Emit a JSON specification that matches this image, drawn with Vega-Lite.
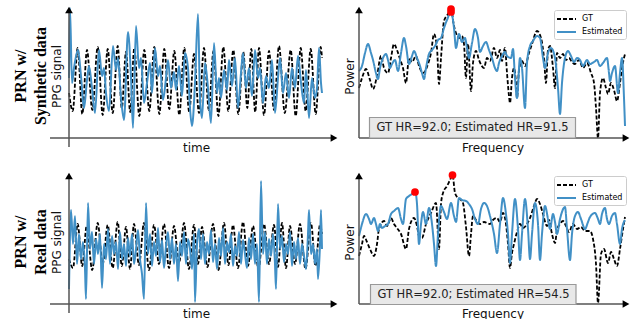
{
  "$schema": "https://vega.github.io/schema/vega-lite/v6.json",
  "background": "white",
  "padding": {"left": 13, "top": 4, "right": 0, "bottom": 0},
  "datasets": {
    "one": [{}],
    "tlGT": [{"x":0,"y":45},{"x":3.7,"y":27},{"x":8.7,"y":90},{"x":13.3,"y":24},{"x":18,"y":88},{"x":23.3,"y":28},{"x":28.7,"y":91},{"x":33.7,"y":23},{"x":38.7,"y":89},{"x":43.7,"y":25},{"x":48.7,"y":92},{"x":52.8,"y":30},{"x":57,"y":86},{"x":61.2,"y":26},{"x":65.3,"y":90},{"x":70.3,"y":22},{"x":75.3,"y":88},{"x":80.3,"y":27},{"x":85.3,"y":91},{"x":90.3,"y":24},{"x":95.3,"y":89},{"x":100.3,"y":29},{"x":105.3,"y":87},{"x":110.3,"y":23},{"x":115.3,"y":90},{"x":120.2,"y":26},{"x":125,"y":84},{"x":130,"y":25},{"x":135,"y":90},{"x":139.8,"y":28},{"x":144.5,"y":87},{"x":149.4,"y":22},{"x":154.3,"y":91},{"x":159.3,"y":27},{"x":164.3,"y":88},{"x":169.3,"y":24},{"x":174.3,"y":86},{"x":178.3,"y":30},{"x":182.3,"y":89},{"x":186.2,"y":26},{"x":190,"y":90},{"x":195,"y":23},{"x":200,"y":87},{"x":205,"y":28},{"x":210,"y":92},{"x":215.8,"y":25},{"x":221.7,"y":88},{"x":226.7,"y":22},{"x":231.7,"y":90},{"x":236.7,"y":27},{"x":241.7,"y":89},{"x":246.7,"y":24},{"x":251.7,"y":91},{"x":253,"y":80}],
    "tlES": [{"x":0,"y":60},{"x":1,"y":130},{"x":3,"y":55},{"x":5,"y":70},{"x":9,"y":88},{"x":12,"y":62},{"x":15,"y":30},{"x":18,"y":58},{"x":20,"y":72},{"x":23,"y":50},{"x":26,"y":25},{"x":30,"y":88},{"x":33,"y":62},{"x":35,"y":70},{"x":37,"y":45},{"x":40,"y":27},{"x":44,"y":92},{"x":47,"y":68},{"x":49,"y":80},{"x":52,"y":40},{"x":55,"y":18},{"x":59,"y":106},{"x":62,"y":60},{"x":64,"y":10},{"x":67,"y":112},{"x":70,"y":70},{"x":72,"y":80},{"x":75,"y":35},{"x":78,"y":55},{"x":81,"y":75},{"x":83,"y":45},{"x":86,"y":90},{"x":89,"y":62},{"x":91,"y":72},{"x":94,"y":38},{"x":97,"y":60},{"x":99,"y":78},{"x":102,"y":50},{"x":105,"y":66},{"x":107,"y":48},{"x":110,"y":72},{"x":113,"y":42},{"x":116,"y":85},{"x":119,"y":70},{"x":121,"y":30},{"x":123,"y":12},{"x":126,"y":55},{"x":129,"y":124},{"x":131,"y":40},{"x":133,"y":20},{"x":136,"y":75},{"x":139,"y":50},{"x":142,"y":15},{"x":145,"y":95},{"x":148,"y":45},{"x":150,"y":60},{"x":152,"y":40},{"x":155,"y":68},{"x":158,"y":48},{"x":160,"y":78},{"x":163,"y":52},{"x":166,"y":80},{"x":169,"y":30},{"x":172,"y":65},{"x":174,"y":85},{"x":177,"y":50},{"x":180,"y":70},{"x":183,"y":42},{"x":186,"y":88},{"x":189,"y":60},{"x":191,"y":70},{"x":194,"y":35},{"x":197,"y":62},{"x":200,"y":50},{"x":203,"y":78},{"x":206,"y":25},{"x":209,"y":60},{"x":211,"y":80},{"x":214,"y":45},{"x":217,"y":65},{"x":220,"y":40},{"x":223,"y":70},{"x":226,"y":50},{"x":229,"y":82},{"x":232,"y":55},{"x":235,"y":35},{"x":237,"y":68},{"x":240,"y":20},{"x":243,"y":60},{"x":246,"y":40},{"x":248,"y":50},{"x":250,"y":90},{"x":252,"y":55},{"x":253,"y":45}],
    "blGT": [{"x":0,"y":45},{"x":4,"y":36},{"x":8.7,"y":80},{"x":13.2,"y":38},{"x":17.7,"y":78},{"x":23.2,"y":34},{"x":28.7,"y":81},{"x":33.7,"y":40},{"x":38.7,"y":79},{"x":43.7,"y":36},{"x":48.7,"y":82},{"x":52.8,"y":38},{"x":57,"y":77},{"x":61,"y":35},{"x":65,"y":80},{"x":70,"y":39},{"x":75,"y":81},{"x":80,"y":34},{"x":85,"y":79},{"x":90,"y":40},{"x":95,"y":80},{"x":100,"y":36},{"x":105,"y":78},{"x":110,"y":41},{"x":115,"y":81},{"x":120,"y":35},{"x":125,"y":79},{"x":129,"y":40},{"x":133,"y":77},{"x":138.5,"y":37},{"x":144,"y":80},{"x":149.5,"y":34},{"x":155,"y":81},{"x":159.5,"y":39},{"x":164,"y":79},{"x":169,"y":36},{"x":174,"y":82},{"x":179,"y":38},{"x":184,"y":78},{"x":189.5,"y":35},{"x":195,"y":80},{"x":200,"y":40},{"x":205,"y":79},{"x":209,"y":37},{"x":213,"y":81},{"x":217,"y":36},{"x":221,"y":78},{"x":226,"y":40},{"x":231,"y":80},{"x":236.5,"y":35},{"x":242,"y":81},{"x":246.5,"y":38},{"x":251,"y":79},{"x":253,"y":70}],
    "blES": [{"x":0,"y":15},{"x":2,"y":94},{"x":4,"y":60},{"x":6,"y":88},{"x":8,"y":40},{"x":10,"y":70},{"x":12,"y":45},{"x":14,"y":62},{"x":16,"y":35},{"x":17,"y":5},{"x":19,"y":101},{"x":21,"y":55},{"x":23,"y":72},{"x":25,"y":40},{"x":27,"y":65},{"x":29,"y":50},{"x":31,"y":70},{"x":33,"y":16},{"x":35,"y":60},{"x":37,"y":45},{"x":39,"y":75},{"x":41,"y":40},{"x":43,"y":68},{"x":45,"y":50},{"x":47,"y":62},{"x":49,"y":35},{"x":51,"y":72},{"x":53,"y":45},{"x":55,"y":60},{"x":57,"y":38},{"x":59,"y":66},{"x":61,"y":48},{"x":63,"y":70},{"x":65,"y":40},{"x":67,"y":55},{"x":69,"y":74},{"x":71,"y":45},{"x":73,"y":30},{"x":75,"y":5},{"x":77,"y":101},{"x":79,"y":50},{"x":81,"y":70},{"x":83,"y":38},{"x":85,"y":62},{"x":87,"y":48},{"x":89,"y":76},{"x":91,"y":42},{"x":93,"y":64},{"x":95,"y":36},{"x":97,"y":58},{"x":99,"y":72},{"x":101,"y":45},{"x":103,"y":66},{"x":105,"y":40},{"x":107,"y":60},{"x":109,"y":23},{"x":111,"y":62},{"x":113,"y":48},{"x":115,"y":72},{"x":117,"y":40},{"x":119,"y":65},{"x":121,"y":55},{"x":123,"y":35},{"x":125,"y":70},{"x":126,"y":2},{"x":128,"y":60},{"x":130,"y":75},{"x":132,"y":45},{"x":134,"y":70},{"x":136,"y":40},{"x":138,"y":62},{"x":140,"y":50},{"x":142,"y":74},{"x":144,"y":42},{"x":146,"y":60},{"x":148,"y":35},{"x":150,"y":66},{"x":152,"y":48},{"x":154,"y":76},{"x":156,"y":40},{"x":158,"y":62},{"x":160,"y":52},{"x":162,"y":70},{"x":164,"y":38},{"x":166,"y":58},{"x":168,"y":48},{"x":170,"y":72},{"x":172,"y":40},{"x":174,"y":64},{"x":176,"y":50},{"x":178,"y":36},{"x":180,"y":66},{"x":182,"y":45},{"x":184,"y":70},{"x":186,"y":40},{"x":188,"y":60},{"x":190,"y":2},{"x":192,"y":123},{"x":194,"y":50},{"x":196,"y":72},{"x":198,"y":40},{"x":200,"y":65},{"x":202,"y":48},{"x":204,"y":70},{"x":206,"y":40},{"x":207,"y":15},{"x":209,"y":100},{"x":211,"y":55},{"x":213,"y":68},{"x":215,"y":42},{"x":217,"y":60},{"x":219,"y":50},{"x":221,"y":72},{"x":223,"y":38},{"x":225,"y":62},{"x":227,"y":45},{"x":229,"y":66},{"x":231,"y":40},{"x":233,"y":60},{"x":235,"y":48},{"x":237,"y":35},{"x":239,"y":70},{"x":240,"y":94},{"x":242,"y":50},{"x":244,"y":60},{"x":246,"y":40},{"x":248,"y":55},{"x":249,"y":25},{"x":251,"y":60},{"x":252,"y":94},{"x":253,"y":55}],
    "trGT": [{"x":0,"y":50},{"x":3,"y":60},{"x":7,"y":69},{"x":11,"y":58},{"x":14,"y":49},{"x":18,"y":62},{"x":22,"y":82},{"x":25,"y":70},{"x":29,"y":65},{"x":32,"y":80},{"x":35,"y":94},{"x":38,"y":88},{"x":41,"y":79},{"x":44,"y":70},{"x":47,"y":55},{"x":50,"y":80},{"x":53,"y":76},{"x":57,"y":82},{"x":60,"y":72},{"x":64,"y":65},{"x":69,"y":74},{"x":72,"y":85},{"x":75,"y":104},{"x":78,"y":90},{"x":80,"y":54},{"x":82,"y":80},{"x":85,"y":117},{"x":89,"y":124},{"x":92,"y":129},{"x":95,"y":112},{"x":97,"y":105},{"x":100,"y":100},{"x":103,"y":102},{"x":105,"y":94},{"x":107,"y":60},{"x":109,"y":94},{"x":112,"y":47},{"x":114,"y":75},{"x":117,"y":87},{"x":120,"y":78},{"x":125,"y":70},{"x":128,"y":80},{"x":131,"y":77},{"x":135,"y":90},{"x":138,"y":80},{"x":141,"y":88},{"x":143,"y":77},{"x":146,"y":90},{"x":148,"y":65},{"x":150,"y":42},{"x":151,"y":35},{"x":153,"y":60},{"x":155,"y":70},{"x":157,"y":55},{"x":158,"y":40},{"x":160,"y":68},{"x":163,"y":77},{"x":166,"y":72},{"x":170,"y":85},{"x":173,"y":94},{"x":178,"y":107},{"x":182,"y":100},{"x":185,"y":80},{"x":187,"y":55},{"x":189,"y":88},{"x":191,"y":92},{"x":194,"y":70},{"x":196,"y":50},{"x":198,"y":85},{"x":201,"y":80},{"x":204,"y":84},{"x":207,"y":78},{"x":210,"y":80},{"x":213,"y":76},{"x":216,"y":74},{"x":220,"y":78},{"x":224,"y":70},{"x":228,"y":75},{"x":232,"y":65},{"x":235,"y":55},{"x":237,"y":30},{"x":239,"y":0},{"x":241,"y":45},{"x":244,"y":60},{"x":247,"y":50},{"x":249,"y":44},{"x":252,"y":55},{"x":255,"y":48},{"x":258,"y":37},{"x":261,"y":55},{"x":263,"y":70},{"x":266,"y":84}],
    "trES": [{"x":0,"y":67},{"x":3,"y":72},{"x":6,"y":85},{"x":9,"y":94},{"x":12,"y":85},{"x":14,"y":78},{"x":17,"y":65},{"x":19,"y":59},{"x":21,"y":70},{"x":24,"y":80},{"x":27,"y":84},{"x":29,"y":78},{"x":31,"y":70},{"x":33,"y":74},{"x":36,"y":78},{"x":39,"y":67},{"x":42,"y":85},{"x":45,"y":100},{"x":47,"y":92},{"x":50,"y":74},{"x":53,"y":82},{"x":55,"y":87},{"x":58,"y":80},{"x":61,"y":72},{"x":63,"y":65},{"x":65,"y":59},{"x":67,"y":70},{"x":70,"y":84},{"x":73,"y":88},{"x":76,"y":92},{"x":79,"y":98},{"x":82,"y":100},{"x":85,"y":110},{"x":88,"y":118},{"x":92,"y":126},{"x":95,"y":110},{"x":97,"y":90},{"x":100,"y":104},{"x":103,"y":96},{"x":106,"y":100},{"x":108,"y":90},{"x":110,"y":80},{"x":113,"y":95},{"x":116,"y":109},{"x":119,"y":100},{"x":121,"y":86},{"x":124,"y":92},{"x":127,"y":96},{"x":130,"y":88},{"x":133,"y":80},{"x":136,"y":70},{"x":138,"y":67},{"x":140,"y":75},{"x":143,"y":82},{"x":146,"y":86},{"x":148,"y":82},{"x":152,"y":80},{"x":154,"y":89},{"x":156,"y":60},{"x":158,"y":40},{"x":161,"y":80},{"x":163,"y":70},{"x":166,"y":30},{"x":168,"y":75},{"x":171,"y":92},{"x":174,"y":97},{"x":178,"y":102},{"x":181,"y":100},{"x":184,"y":80},{"x":186,"y":70},{"x":189,"y":85},{"x":192,"y":90},{"x":196,"y":80},{"x":199,"y":50},{"x":201,"y":24},{"x":203,"y":55},{"x":206,"y":80},{"x":209,"y":87},{"x":212,"y":82},{"x":215,"y":76},{"x":218,"y":80},{"x":221,"y":78},{"x":224,"y":72},{"x":228,"y":78},{"x":231,"y":74},{"x":235,"y":76},{"x":238,"y":78},{"x":241,"y":72},{"x":244,"y":75},{"x":248,"y":80},{"x":250,"y":65},{"x":251,"y":57},{"x":253,"y":65},{"x":256,"y":72},{"x":259,"y":45},{"x":261,"y":65},{"x":263,"y":80},{"x":265,"y":40},{"x":266,"y":12}],
    "brGT": [{"x":0,"y":48},{"x":3,"y":60},{"x":5,"y":68},{"x":8,"y":62},{"x":11,"y":55},{"x":15,"y":48},{"x":18,"y":60},{"x":20,"y":75},{"x":25,"y":83},{"x":28,"y":78},{"x":32,"y":86},{"x":35,"y":80},{"x":38,"y":76},{"x":42,"y":70},{"x":47,"y":55},{"x":50,"y":75},{"x":55,"y":86},{"x":58,"y":78},{"x":60,"y":68},{"x":63,"y":66},{"x":67,"y":80},{"x":72,"y":91},{"x":77,"y":101},{"x":80,"y":55},{"x":82,"y":100},{"x":84,"y":111},{"x":88,"y":118},{"x":91,"y":124},{"x":93.5,"y":129},{"x":96,"y":111},{"x":99,"y":106},{"x":102,"y":104},{"x":104,"y":101},{"x":107,"y":77},{"x":110,"y":48},{"x":112,"y":70},{"x":114,"y":88},{"x":117,"y":84},{"x":121,"y":80},{"x":125,"y":82},{"x":131,"y":80},{"x":134,"y":84},{"x":138,"y":86},{"x":141,"y":82},{"x":144,"y":91},{"x":147,"y":80},{"x":149,"y":60},{"x":151,"y":36},{"x":153,"y":51},{"x":155,"y":60},{"x":158,"y":72},{"x":161,"y":80},{"x":164,"y":76},{"x":168,"y":80},{"x":171,"y":86},{"x":175,"y":98},{"x":178,"y":105},{"x":181,"y":100},{"x":184,"y":90},{"x":188,"y":78},{"x":190,"y":84},{"x":193,"y":70},{"x":196,"y":61},{"x":198,"y":74},{"x":201,"y":80},{"x":204,"y":83},{"x":207,"y":78},{"x":210,"y":72},{"x":214,"y":80},{"x":218,"y":75},{"x":222,"y":77},{"x":226,"y":73},{"x":231,"y":73},{"x":234,"y":65},{"x":237,"y":40},{"x":239,"y":1},{"x":242,"y":50},{"x":245,"y":55},{"x":249,"y":41},{"x":252,"y":52},{"x":255,"y":45},{"x":258,"y":38},{"x":261,"y":55},{"x":264,"y":75},{"x":266,"y":87}],
    "brES": [{"x":0,"y":68},{"x":3,"y":80},{"x":7,"y":90},{"x":10,"y":85},{"x":12,"y":80},{"x":15,"y":86},{"x":17,"y":80},{"x":19,"y":73},{"x":21,"y":80},{"x":23,"y":76},{"x":26,"y":78},{"x":29,"y":80},{"x":32,"y":90},{"x":35,"y":93},{"x":39,"y":96},{"x":42,"y":85},{"x":44,"y":80},{"x":47,"y":105},{"x":50,"y":108},{"x":53,"y":110},{"x":56,"y":113},{"x":58,"y":100},{"x":60,"y":60},{"x":62,"y":80},{"x":64,"y":92},{"x":67,"y":80},{"x":70,"y":96},{"x":73,"y":80},{"x":75,"y":60},{"x":77,"y":38},{"x":79,"y":70},{"x":82,"y":98},{"x":85,"y":92},{"x":88,"y":85},{"x":92,"y":101},{"x":95,"y":88},{"x":97,"y":82},{"x":100,"y":106},{"x":103,"y":104},{"x":107,"y":103},{"x":110,"y":100},{"x":113,"y":95},{"x":116,"y":85},{"x":119,"y":80},{"x":122,"y":95},{"x":125,"y":101},{"x":128,"y":98},{"x":131,"y":88},{"x":135,"y":70},{"x":138,"y":51},{"x":141,"y":80},{"x":144,"y":106},{"x":147,"y":90},{"x":149,"y":70},{"x":151,"y":41},{"x":153,"y":70},{"x":156,"y":105},{"x":159,"y":75},{"x":161,"y":44},{"x":163,"y":70},{"x":166,"y":105},{"x":169,"y":75},{"x":171,"y":45},{"x":173,"y":70},{"x":176,"y":101},{"x":179,"y":80},{"x":181,"y":44},{"x":183,"y":70},{"x":186,"y":98},{"x":189,"y":85},{"x":191,"y":75},{"x":194,"y":90},{"x":196,"y":82},{"x":198,"y":70},{"x":201,"y":85},{"x":206,"y":97},{"x":208,"y":75},{"x":211,"y":44},{"x":213,"y":70},{"x":216,"y":88},{"x":219,"y":92},{"x":222,"y":85},{"x":226,"y":75},{"x":229,"y":82},{"x":231,"y":87},{"x":236,"y":91},{"x":239,"y":85},{"x":241,"y":80},{"x":243,"y":90},{"x":246,"y":96},{"x":248,"y":85},{"x":250,"y":80},{"x":253,"y":88},{"x":256,"y":91},{"x":258,"y":80},{"x":261,"y":60},{"x":263,"y":75},{"x":266,"y":84}],
    "pk1": [{"x":92,"y":129},{"x":92,"y":126}],
    "pk2": [{"x":56,"y":112},{"x":93.5,"y":129}]
  },
  "concat": [
    {
      "width": 265, "height": 132,
      "title": {"text": ["PRN w/", "Synthetic data"], "orient": "left", "anchor": "middle", "font": "Liberation Serif", "fontSize": 16, "fontWeight": "bold", "lineHeight": 20, "offset": 0, "color": "black"},
      "layer": [
        {"data": {"name": "tlGT"}, "mark": {"type": "line", "color": "black", "strokeWidth": 1.8, "strokeDash": [4, 2], "interpolate": "monotone"},
         "encoding": {"x": {"field": "x", "type": "quantitative", "scale": {"domain": [0, 265], "nice": false, "zero": false}, "axis": {"title": "time", "titleX": 127, "titlePadding": 0, "titleFont": "DejaVu Sans", "titleFontSize": 12, "titleFontWeight": "normal", "titleColor": "#111111"}},
                      "y": {"field": "y", "type": "quantitative", "scale": {"domain": [-4, 128], "nice": false, "zero": false}, "axis": {"title": "PPG signal", "titlePadding": 6, "titleFont": "DejaVu Sans", "titleFontSize": 12, "titleFontWeight": "normal", "titleColor": "#111111"}}}},
        {"data": {"name": "tlES"}, "mark": {"type": "line", "color": "#4190c6", "strokeWidth": 2, "interpolate": "monotone"},
         "encoding": {"x": {"field": "x", "type": "quantitative", "axis": {"title": "time"}}, "y": {"field": "y", "type": "quantitative", "axis": {"title": "PPG signal"}}}},
        {"data": {"name": "one"}, "mark": {"type": "rule", "color": "#555555", "strokeWidth": 1.5},
         "encoding": {"x": {"datum": 0, "type": "quantitative", "axis": {"title": "time"}}, "y": {"datum": -9, "type": "quantitative", "axis": {"title": "PPG signal"}}, "y2": {"datum": 128}}},
        {"data": {"name": "one"}, "mark": {"type": "rule", "color": "#555555", "strokeWidth": 1.5},
         "encoding": {"x": {"datum": -19, "type": "quantitative", "axis": {"title": "time"}}, "x2": {"datum": 265}, "y": {"datum": 0, "type": "quantitative", "axis": {"title": "PPG signal"}}}},
        {"data": {"name": "one"}, "mark": {"type": "point", "shape": "triangle-up", "filled": true, "color": "black", "size": 60, "opacity": 1},
         "encoding": {"x": {"datum": 0, "type": "quantitative", "axis": {"title": "time"}}, "y": {"datum": 128, "type": "quantitative", "axis": {"title": "PPG signal"}}}},
        {"data": {"name": "one"}, "mark": {"type": "point", "shape": "triangle-right", "filled": true, "color": "black", "size": 60, "opacity": 1},
         "encoding": {"x": {"datum": 265, "type": "quantitative", "axis": {"title": "time"}}, "y": {"datum": 0, "type": "quantitative", "axis": {"title": "PPG signal"}}}}
      ]
    },
    {
      "width": 267, "height": 132,
      "layer": [
        {"data": {"name": "trGT"}, "mark": {"type": "line", "strokeWidth": 1.8, "interpolate": "monotone"},
         "encoding": {"x": {"field": "x", "type": "quantitative", "scale": {"domain": [0, 267], "nice": false, "zero": false}, "axis": {"title": "Frequency", "titlePadding": 0, "titleFont": "DejaVu Sans", "titleFontSize": 12, "titleFontWeight": "normal", "titleColor": "#111111"}},
                      "y": {"field": "y", "type": "quantitative", "scale": {"domain": [-4, 128], "nice": false, "zero": false}, "axis": {"title": "Power", "titlePadding": 3, "titleFont": "DejaVu Sans", "titleFontSize": 12, "titleFontWeight": "normal", "titleColor": "#111111"}},
                      "color": {"datum": "GT", "type": "nominal", "scale": {"domain": ["GT", "Estimated"], "range": ["black", "#4190c6"]}, "legend": {"title": null}},
                      "strokeDash": {"datum": "GT", "type": "nominal", "scale": {"domain": ["GT", "Estimated"], "range": [[4, 2], [1, 0]]}, "legend": {"title": null}}}},
        {"data": {"name": "trES"}, "mark": {"type": "line", "strokeWidth": 2, "interpolate": "monotone"},
         "encoding": {"x": {"field": "x", "type": "quantitative", "axis": {"title": "Frequency"}}, "y": {"field": "y", "type": "quantitative", "axis": {"title": "Power"}},
                      "color": {"datum": "Estimated", "type": "nominal"}, "strokeDash": {"datum": "Estimated", "type": "nominal"}}},
        {"data": {"name": "pk1"}, "mark": {"type": "point", "filled": true, "color": "red", "size": 60, "opacity": 1},
         "encoding": {"x": {"field": "x", "type": "quantitative", "axis": {"title": "Frequency"}}, "y": {"field": "y", "type": "quantitative", "axis": {"title": "Power"}}}},
        {"data": {"name": "one"}, "mark": {"type": "rule", "color": "#555555", "strokeWidth": 1.5},
         "encoding": {"x": {"datum": 0, "type": "quantitative", "axis": {"title": "Frequency"}}, "y": {"datum": 0, "type": "quantitative", "axis": {"title": "Power"}}, "y2": {"datum": 128}}},
        {"data": {"name": "one"}, "mark": {"type": "rule", "color": "#555555", "strokeWidth": 1.5},
         "encoding": {"x": {"datum": 0, "type": "quantitative", "axis": {"title": "Frequency"}}, "x2": {"datum": 267}, "y": {"datum": 0, "type": "quantitative", "axis": {"title": "Power"}}}},
        {"data": {"name": "one"}, "mark": {"type": "rect", "fill": "#e8e8e8", "stroke": "#999999", "strokeWidth": 1.2},
         "encoding": {"x": {"datum": 10.5, "type": "quantitative", "axis": {"title": "Frequency"}}, "x2": {"datum": 216.5}, "y": {"datum": 0, "type": "quantitative", "axis": {"title": "Power"}}, "y2": {"datum": 20.5}}},
        {"data": {"name": "one"}, "mark": {"type": "text", "text": "GT HR=92.0; Estimated HR=91.5", "font": "DejaVu Sans", "fontSize": 11.5, "color": "#222222", "align": "center", "baseline": "middle"},
         "encoding": {"x": {"datum": 113.5, "type": "quantitative", "axis": {"title": "Frequency"}}, "y": {"datum": 10, "type": "quantitative", "axis": {"title": "Power"}}}},
        {"data": {"name": "one"}, "mark": {"type": "point", "shape": "triangle-up", "filled": true, "color": "black", "size": 60, "opacity": 1},
         "encoding": {"x": {"datum": 0, "type": "quantitative", "axis": {"title": "Frequency"}}, "y": {"datum": 128, "type": "quantitative", "axis": {"title": "Power"}}}},
        {"data": {"name": "one"}, "mark": {"type": "point", "shape": "triangle-right", "filled": true, "color": "black", "size": 60, "opacity": 1},
         "encoding": {"x": {"datum": 267, "type": "quantitative", "axis": {"title": "Frequency"}}, "y": {"datum": 0, "type": "quantitative", "axis": {"title": "Power"}}}}
      ]
    },
    {
      "width": 265, "height": 132,
      "title": {"text": ["PRN w/", "Real data"], "orient": "left", "anchor": "middle", "font": "Liberation Serif", "fontSize": 16, "fontWeight": "bold", "lineHeight": 20, "offset": 0, "color": "black"},
      "layer": [
        {"data": {"name": "blGT"}, "mark": {"type": "line", "color": "black", "strokeWidth": 1.8, "strokeDash": [4, 2], "interpolate": "monotone"},
         "encoding": {"x": {"field": "x", "type": "quantitative", "scale": {"domain": [0, 265], "nice": false, "zero": false}, "axis": {"title": "time", "titleX": 127, "titlePadding": 0, "titleFont": "DejaVu Sans", "titleFontSize": 12, "titleFontWeight": "normal", "titleColor": "#111111"}},
                      "y": {"field": "y", "type": "quantitative", "scale": {"domain": [-4, 128], "nice": false, "zero": false}, "axis": {"title": "PPG signal", "titlePadding": 6, "titleFont": "DejaVu Sans", "titleFontSize": 12, "titleFontWeight": "normal", "titleColor": "#111111"}}}},
        {"data": {"name": "blES"}, "mark": {"type": "line", "color": "#4190c6", "strokeWidth": 2, "interpolate": "monotone"},
         "encoding": {"x": {"field": "x", "type": "quantitative", "axis": {"title": "time"}}, "y": {"field": "y", "type": "quantitative", "axis": {"title": "PPG signal"}}}},
        {"data": {"name": "one"}, "mark": {"type": "rule", "color": "#555555", "strokeWidth": 1.5},
         "encoding": {"x": {"datum": 0, "type": "quantitative", "axis": {"title": "time"}}, "y": {"datum": -9, "type": "quantitative", "axis": {"title": "PPG signal"}}, "y2": {"datum": 128}}},
        {"data": {"name": "one"}, "mark": {"type": "rule", "color": "#555555", "strokeWidth": 1.5},
         "encoding": {"x": {"datum": -19, "type": "quantitative", "axis": {"title": "time"}}, "x2": {"datum": 265}, "y": {"datum": 0, "type": "quantitative", "axis": {"title": "PPG signal"}}}},
        {"data": {"name": "one"}, "mark": {"type": "point", "shape": "triangle-up", "filled": true, "color": "black", "size": 60, "opacity": 1},
         "encoding": {"x": {"datum": 0, "type": "quantitative", "axis": {"title": "time"}}, "y": {"datum": 128, "type": "quantitative", "axis": {"title": "PPG signal"}}}},
        {"data": {"name": "one"}, "mark": {"type": "point", "shape": "triangle-right", "filled": true, "color": "black", "size": 60, "opacity": 1},
         "encoding": {"x": {"datum": 265, "type": "quantitative", "axis": {"title": "time"}}, "y": {"datum": 0, "type": "quantitative", "axis": {"title": "PPG signal"}}}}
      ]
    },
    {
      "width": 267, "height": 132,
      "layer": [
        {"data": {"name": "brGT"}, "mark": {"type": "line", "strokeWidth": 1.8, "interpolate": "monotone"},
         "encoding": {"x": {"field": "x", "type": "quantitative", "scale": {"domain": [0, 267], "nice": false, "zero": false}, "axis": {"title": "Frequency", "titlePadding": 0, "titleFont": "DejaVu Sans", "titleFontSize": 12, "titleFontWeight": "normal", "titleColor": "#111111"}},
                      "y": {"field": "y", "type": "quantitative", "scale": {"domain": [-4, 128], "nice": false, "zero": false}, "axis": {"title": "Power", "titlePadding": 3, "titleFont": "DejaVu Sans", "titleFontSize": 12, "titleFontWeight": "normal", "titleColor": "#111111"}},
                      "color": {"datum": "GT", "type": "nominal", "scale": {"domain": ["GT", "Estimated"], "range": ["black", "#4190c6"]}, "legend": {"title": null}},
                      "strokeDash": {"datum": "GT", "type": "nominal", "scale": {"domain": ["GT", "Estimated"], "range": [[4, 2], [1, 0]]}, "legend": {"title": null}}}},
        {"data": {"name": "brES"}, "mark": {"type": "line", "strokeWidth": 2, "interpolate": "monotone"},
         "encoding": {"x": {"field": "x", "type": "quantitative", "axis": {"title": "Frequency"}}, "y": {"field": "y", "type": "quantitative", "axis": {"title": "Power"}},
                      "color": {"datum": "Estimated", "type": "nominal"}, "strokeDash": {"datum": "Estimated", "type": "nominal"}}},
        {"data": {"name": "pk2"}, "mark": {"type": "point", "filled": true, "color": "red", "size": 60, "opacity": 1},
         "encoding": {"x": {"field": "x", "type": "quantitative", "axis": {"title": "Frequency"}}, "y": {"field": "y", "type": "quantitative", "axis": {"title": "Power"}}}},
        {"data": {"name": "one"}, "mark": {"type": "rule", "color": "#555555", "strokeWidth": 1.5},
         "encoding": {"x": {"datum": 0, "type": "quantitative", "axis": {"title": "Frequency"}}, "y": {"datum": 0, "type": "quantitative", "axis": {"title": "Power"}}, "y2": {"datum": 128}}},
        {"data": {"name": "one"}, "mark": {"type": "rule", "color": "#555555", "strokeWidth": 1.5},
         "encoding": {"x": {"datum": 0, "type": "quantitative", "axis": {"title": "Frequency"}}, "x2": {"datum": 267}, "y": {"datum": 0, "type": "quantitative", "axis": {"title": "Power"}}}},
        {"data": {"name": "one"}, "mark": {"type": "rect", "fill": "#e8e8e8", "stroke": "#999999", "strokeWidth": 1.2},
         "encoding": {"x": {"datum": 11.5, "type": "quantitative", "axis": {"title": "Frequency"}}, "x2": {"datum": 217}, "y": {"datum": -0.5, "type": "quantitative", "axis": {"title": "Power"}}, "y2": {"datum": 19.5}}},
        {"data": {"name": "one"}, "mark": {"type": "text", "text": "GT HR=92.0; Estimated HR=54.5", "font": "DejaVu Sans", "fontSize": 11.5, "color": "#222222", "align": "center", "baseline": "middle"},
         "encoding": {"x": {"datum": 114.5, "type": "quantitative", "axis": {"title": "Frequency"}}, "y": {"datum": 9.5, "type": "quantitative", "axis": {"title": "Power"}}}},
        {"data": {"name": "one"}, "mark": {"type": "point", "shape": "triangle-up", "filled": true, "color": "black", "size": 60, "opacity": 1},
         "encoding": {"x": {"datum": 0, "type": "quantitative", "axis": {"title": "Frequency"}}, "y": {"datum": 128, "type": "quantitative", "axis": {"title": "Power"}}}},
        {"data": {"name": "one"}, "mark": {"type": "point", "shape": "triangle-right", "filled": true, "color": "black", "size": 60, "opacity": 1},
         "encoding": {"x": {"datum": 267, "type": "quantitative", "axis": {"title": "Frequency"}}, "y": {"datum": 0, "type": "quantitative", "axis": {"title": "Power"}}}}
      ]
    }
  ],
  "columns": 2,
  "spacing": {"row": 34, "column": 25},
  "bounds": "flush",
  "resolve": {"scale": {"color": "independent", "strokeDash": "independent"}, "legend": {"color": "independent", "strokeDash": "independent"}},
  "config": {
    "view": {"stroke": null},
    "axis": {"domain": false, "ticks": false, "labels": false, "grid": false, "titleFont": "DejaVu Sans", "titleFontSize": 12, "titleFontWeight": "normal", "titleColor": "#111111"},
    "legend": {"orient": "top-right", "offset": 0, "padding": 3, "strokeColor": "#cccccc", "fillColor": "white", "cornerRadius": 2, "labelFont": "DejaVu Sans", "labelFontSize": 8, "labelColor": "black", "symbolStrokeWidth": 2, "symbolSize": 100, "symbolType": "M-1.9,0H1.9", "symbolOffset": 3.5, "labelOffset": 9.5, "rowPadding": 3}
  }
}
